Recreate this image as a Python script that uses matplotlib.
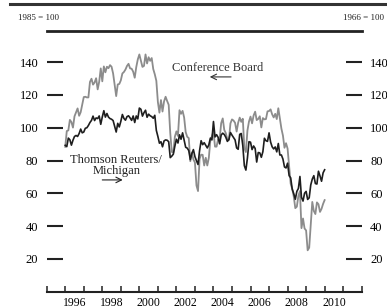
import matplotlib
matplotlib.use("Agg")
import matplotlib.pyplot as plt
from matplotlib.lines import Line2D
import numpy as np

plt.rcParams['font.family'] = ['Liberation Serif', 'DejaVu Serif']

# Monthly values, Jan 1996 - Jan 2010
conference_board = [
    88.4, 98.0, 98.4, 104.8, 103.5, 100.1, 107.0, 109.4, 111.8, 107.3, 109.5, 114.2,
    118.7, 118.9, 118.5, 118.5, 127.9, 129.9, 126.3, 127.6, 130.2, 123.4, 128.1, 136.2,
    128.3, 137.4, 133.8, 137.2, 136.3, 138.2, 137.2, 133.1, 126.4, 119.3, 126.4, 126.7,
    128.9, 133.1, 134.0, 135.5, 137.7, 139.0, 136.2, 136.0, 134.2, 130.5, 137.0, 141.7,
    144.7, 140.8, 137.1, 137.7, 144.7, 139.2, 143.0, 140.8, 142.5, 135.8, 132.6, 128.6,
    115.7, 109.2, 116.9, 109.9, 116.1, 118.9, 116.3, 114.0, 97.0, 85.3, 84.9, 94.6,
    97.8, 95.0, 110.7, 108.5, 110.3, 106.3, 97.4, 94.5, 93.7, 79.6, 84.9, 80.7,
    78.8, 64.8, 61.4, 81.0, 83.6, 83.5, 77.0, 81.7, 77.0, 81.7, 92.5, 94.8,
    97.7, 88.5, 88.5, 93.0, 93.1, 102.8, 105.7, 98.7, 96.7, 92.9, 92.6, 102.7,
    105.1, 104.4, 103.0, 97.7, 103.1, 106.2, 103.6, 105.5, 87.5, 85.2, 98.3, 103.8,
    106.8, 102.7, 107.5, 109.8, 104.7, 105.4, 107.0, 100.2, 105.9, 105.1, 105.3, 110.0,
    110.2, 111.2, 108.2, 106.3, 108.5, 105.3, 111.9, 105.6, 99.5, 95.2, 87.8, 90.6,
    87.3, 76.4, 65.9, 62.8, 58.1, 51.0, 51.9, 58.5, 61.4, 38.8, 44.7, 38.6,
    37.4, 25.3, 26.9, 40.8, 54.8, 49.3, 47.4, 54.5, 53.4, 48.7, 50.6, 53.6,
    55.9,
]
michigan = [
    89.3, 88.5, 93.7, 92.7, 89.4, 92.4, 94.7, 95.3, 94.7, 96.5, 99.2, 96.9,
    97.4, 99.7, 100.0, 101.4, 103.2, 104.5, 107.1, 104.4, 106.0, 105.6, 107.2, 102.1,
    106.6, 110.4, 106.5, 108.7, 106.5, 105.6, 105.2, 104.4, 100.9, 97.4, 102.7, 100.5,
    103.9, 108.1, 105.7, 104.6, 106.8, 107.3, 106.0, 104.5, 107.2, 103.2, 107.2, 105.4,
    112.0, 111.3, 107.1, 109.2, 110.7, 106.4, 108.3, 107.3, 106.8, 105.8, 107.6, 98.4,
    94.7, 90.6, 91.5, 88.4, 92.0, 92.6, 92.4, 91.5, 81.8, 82.7, 83.9, 88.8,
    93.0, 90.7, 95.7, 93.0, 96.9, 92.4, 88.1, 87.6, 86.1, 80.6, 84.2, 86.7,
    82.4, 79.9, 77.6, 86.0, 92.1, 89.7, 90.9, 89.3, 87.7, 89.6, 93.7, 92.6,
    103.8, 94.4, 95.8, 94.2, 90.2, 95.6, 96.7, 95.9, 94.2, 91.7, 92.8, 97.1,
    95.5, 94.1, 92.6, 87.7, 86.9, 96.0, 96.5, 89.1, 76.9, 74.2, 81.6, 91.5,
    91.2, 86.7, 88.9, 87.4, 79.1, 84.9, 84.7, 82.0, 85.4, 93.6, 92.1, 91.7,
    96.9, 91.3, 88.4, 87.1, 88.3, 85.3, 90.4, 83.4, 83.4, 80.9, 76.1, 75.5,
    78.4, 70.8, 69.5, 62.6, 59.8, 56.4, 61.2, 63.0, 70.3, 57.6, 55.3, 60.1,
    61.2, 56.3, 57.3, 65.1, 68.7, 70.8, 66.0, 65.7, 73.5, 70.6, 67.4, 72.5,
    74.4,
]
start_year = 1996
y_ticks = [20, 40, 60, 80, 100, 120, 140]
year_labels = [1996, 1998, 2000, 2002, 2004, 2006, 2008, 2010]

t = start_year + np.arange(len(conference_board)) / 12.0

fig = plt.figure(figsize=(3.87, 3.08), dpi=100)
ax = fig.add_axes([0.1207, 0.0526, 0.8139, 0.8468])

ax.plot(t, conference_board, color='#8c8c8c', lw=1.3)
ax.plot(t, michigan, color='#1e1e1e', lw=1.2)

ax.set_xlim(1995, 2012)
ax.set_ylim(0, 159)

for s in ['left', 'right']:
    ax.spines[s].set_visible(False)
ax.spines['bottom'].set_linewidth(1.5)
ax.spines['top'].set_linewidth(2.0)
ax.spines['top'].set_color('#222222')
ax.spines['bottom'].set_color('#222222')

# x ticks: year boundaries, labels centered in even years
ax.set_xticks(np.arange(1995, 2013))
ax.set_xticklabels([])
ax.tick_params(axis='x', which='major', direction='in', length=4.5, width=1.1,
               color='#222222', top=False)
ax.set_xticks([y + 0.5 for y in year_labels], minor=True)
ax.set_xticklabels([str(y) for y in year_labels], minor=True, fontsize=8.5)
ax.tick_params(axis='x', which='minor', length=0, pad=3.5)

ax.set_yticks(y_ticks)
ax.set_yticklabels([str(v) for v in y_ticks], fontsize=9)
ax.tick_params(axis='y', direction='in', length=11.5, width=1.5, color='#222222',
               left=True, right=True, labelleft=True, labelright=True)
for lab in ax.get_yticklabels(which='major'):
    pass
ax.yaxis.set_tick_params(which='major', pad=6)
for tk in ax.yaxis.get_major_ticks():
    tk.set_pad(6)

# right labels pad separately
ax2 = ax  # same axes; adjust right label pad via offset transform
import matplotlib.transforms as mtrans
for lbl in ax.yaxis.get_ticklabels(which='major'):
    pass

# annotations
ax.text(2004.2, 136.4, 'Conference Board', fontsize=9, ha='center', va='center',
        color='#333333')
ax.annotate('', xy=(2003.8, 131), xytext=(2004.95, 131),
            arrowprops=dict(arrowstyle='->', lw=0.8, color='#333333',
                            shrinkA=0, shrinkB=0))
ax.text(1998.75, 80.4, 'Thomson Reuters/', fontsize=9, ha='center', va='center',
        color='#222222')
ax.text(1998.75, 73.7, 'Michigan', fontsize=9, ha='center', va='center',
        color='#222222')
ax.annotate('', xy=(1999.1, 68.2), xytext=(1998.0, 68.2),
            arrowprops=dict(arrowstyle='->', lw=0.8, color='#222222',
                            shrinkA=0, shrinkB=0))

fig.text(18 / 387, 1 - 18 / 308, '1985 = 100', fontsize=6.5, ha='left', va='center',
         color='#222222')
fig.text(343 / 387, 1 - 18 / 308, '1966 = 100', fontsize=6.5, ha='left', va='center',
         color='#222222')
fig.add_artist(Line2D([10 / 387, 1.0], [1 - 3.5 / 308, 1 - 3.5 / 308],
                      transform=fig.transFigure, color='#333333', lw=2.2))

fig.savefig('out.png', dpi=100)
